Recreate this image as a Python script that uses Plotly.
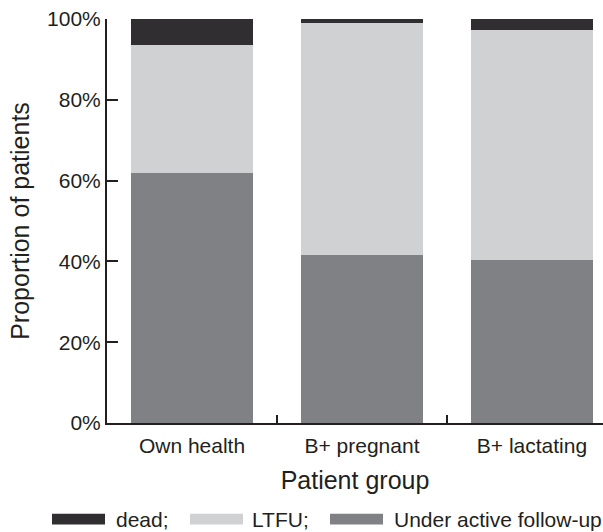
import plotly.graph_objects as go

categories = ["Own health", "B+ pregnant", "B+ lactating"]
under_active = [61.8, 41.6, 40.4]
ltfu = [31.8, 57.3, 57.0]
dead = [6.4, 1.1, 2.6]
y_ticks = [0, 20, 40, 60, 80, 100]
y_tick_labels = [f"{v}%" for v in y_ticks]

series = [
    ("Under active follow-up", under_active, "#808185"),
    ("LTFU;", ltfu, "#d0d1d3"),
    ("dead;", dead, "#302e30"),
]

W, H = 603, 532
L, R, T, B = 107, 0, 19, 108.7
pw, ph = W - L - R, H - T - B

FONT = "Liberation Sans, Arial, Helvetica, sans-serif"
TXT = "#231f20"

fig = go.Figure()
for name, vals, col in series:
    fig.add_trace(go.Bar(x=categories, y=vals, name=name, marker_color=col,
                         marker_line_width=0, showlegend=False))

# custom legend (wide thin swatches)
legend_items = [("dead;", "#302e30", 52, 105, 114),
                ("LTFU;", "#d0d1d3", 190, 243, 250),
                ("Under active follow-up", "#808185", 330, 383, 392)]
def px2x(px):
    return (px - L) / pw
def py2y(py):
    return (H - B - py) / ph
for label, col, x0, x1, tx in legend_items:
    fig.add_shape(type="rect", xref="paper", yref="paper",
                  x0=px2x(x0), x1=px2x(x1), y0=py2y(525), y1=py2y(514),
                  fillcolor=col, line_width=0)
    fig.add_annotation(xref="paper", yref="paper", x=px2x(tx), y=py2y(519.5),
                       text=label, showarrow=False, xanchor="left", yanchor="middle",
                       font=dict(size=21, color=TXT, family=FONT))

fig.update_layout(
    width=W, height=H,
    margin=dict(l=L, r=R, t=T, b=B, pad=0),
    barmode="stack", bargap=0.282,
    plot_bgcolor="white", paper_bgcolor="white",
    font=dict(family=FONT, size=21, color=TXT),
    xaxis=dict(
        range=[-0.5, 2.418], showline=True, linecolor="#231f20", linewidth=2,
        ticks="inside", tickson="boundaries", ticklen=8, tickwidth=1.5,
        tickcolor="#231f20", showgrid=False, zeroline=False,
        ticklabelstandoff=3,
        title=dict(text="Patient group", standoff=15),
    ),
    yaxis=dict(
        range=[0, 100], tickvals=y_ticks, ticktext=y_tick_labels,
        showline=True, linecolor="#231f20", linewidth=2,
        ticks="inside", ticklen=11, tickwidth=2, tickcolor="#231f20",
        showgrid=False, zeroline=False,
        title=dict(text="Proportion of patients", standoff=10),
    ),
)

fig.write_html("out.html", config={"displayModeBar": False},
               post_script="document.body.style.margin='0';document.body.style.overflow='hidden';")
